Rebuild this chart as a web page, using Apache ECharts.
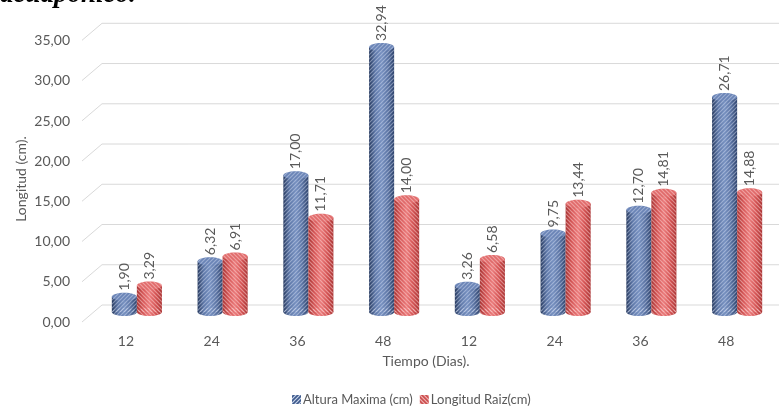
<!DOCTYPE html>
<html>
<head>
<meta charset="utf-8">
<script src="https://cdn.jsdelivr.net/npm/echarts@6/dist/echarts.min.js"></script>
<style>
html,body{margin:0;padding:0;background:#fff;}
#chart{width:779px;height:408px;}
</style>
</head>
<body>
<div id="chart"></div>
<script>
// ---- data ----
const categories = ['12', '24', '36', '48', '12', '24', '36', '48'];
const alturaMaxima = [1.90, 6.32, 17.00, 32.94, 3.26, 9.75, 12.70, 26.71];
const longitudRaiz = [3.29, 6.91, 11.71, 14.00, 6.58, 13.44, 14.81, 14.88];
const yTickValues = [0, 5, 10, 15, 20, 25, 30, 35];
const seriesNames = ['Altura Maxima (cm)', 'Longitud Raiz(cm)'];
const xAxisTitle = 'Tiempo (Dias).';
const yAxisTitle = 'Longitud (cm).';
const headingText = 'acuapónico.';

// ---- styling helpers ----
const FONT = 'Lato, "Open Sans", sans-serif';
const TXT = '#595959';
const fmt = v => v.toFixed(2).replace('.', ',');

function makePattern(bg, line, dir) {
  const c = document.createElement('canvas');
  c.width = 4; c.height = 4;
  const g = c.getContext('2d');
  g.fillStyle = bg; g.fillRect(0, 0, 4, 4);
  g.strokeStyle = line; g.lineWidth = 1.2;
  g.beginPath();
  if (dir > 0) {
    g.moveTo(-1, 5); g.lineTo(5, -1);
    g.moveTo(-1, 1); g.lineTo(1, -1);
    g.moveTo(3, 5); g.lineTo(5, 3);
  } else {
    g.moveTo(-1, -1); g.lineTo(5, 5);
    g.moveTo(-1, 3); g.lineTo(1, 5);
    g.moveTo(3, -1); g.lineTo(5, 1);
  }
  g.stroke();
  return c;
}
const blueHatch = makePattern('rgba(0,0,0,0)', 'rgba(215,225,245,0.45)', 1);
const redHatch = makePattern('rgba(0,0,0,0)', 'rgba(255,215,215,0.5)', -1);
const blueLegend = makePattern('#3e5a8c', '#c9d4ea', 1);
const redLegend = makePattern('#c94545', '#f4c2c2', -1);

const styles = [
  {
    grad: ['#24375c', '#5d77a8', '#7690c0', '#5a73a3', '#2a3f68'],
    top: '#6a84b6',
    hatch: blueHatch
  },
  {
    grad: ['#a53030', '#d65656', '#ea7a7a', '#d45252', '#a83232'],
    top: '#e06a6a',
    hatch: redHatch
  }
];

const DY = 7;   // depth shift of the cylinders (3D look)
const RY = 4;   // ellipse half height

function cylinderRenderer(sIdx) {
  const st = styles[sIdx];
  const grad = {
    type: 'linear', x: 0, y: 0, x2: 1, y2: 0,
    colorStops: st.grad.map((c, i) => ({ offset: i / (st.grad.length - 1), color: c }))
  };
  const pat = { image: st.hatch, repeat: 'repeat' };
  return function (params, api) {
    const idx = api.value(0), v = api.value(1);
    const top = api.coord([idx, v]);
    const base = api.coord([idx, 0]);
    const band = api.size([1, 0])[0];
    const w = band * 0.292;
    const rx = w / 2;
    const cx = top[0] + (sIdx === 0 ? -rx : rx);
    const ty = top[1] + DY, by = base[1] + DY;
    return {
      type: 'group',
      children: [
        { type: 'ellipse', shape: { cx: cx, cy: by, rx: rx, ry: RY }, style: { fill: grad } },
        { type: 'rect', shape: { x: cx - rx, y: ty, width: w, height: by - ty }, style: { fill: grad } },
        { type: 'ellipse', shape: { cx: cx, cy: by, rx: rx, ry: RY }, style: { fill: pat } },
        { type: 'rect', shape: { x: cx - rx, y: ty, width: w, height: by - ty }, style: { fill: pat } },
        { type: 'ellipse', shape: { cx: cx, cy: ty, rx: rx, ry: RY }, style: { fill: st.top } },
        { type: 'ellipse', shape: { cx: cx, cy: ty, rx: rx, ry: RY }, style: { fill: pat } },
        {
          type: 'text', x: cx, y: ty - RY - 2, rotation: Math.PI / 2,
          style: { text: fmt(v), fill: TXT, font: '14px ' + FONT, align: 'left', verticalAlign: 'middle' }
        }
      ]
    };
  };
}

// back wall gridlines + the short diagonal linking them to the front edge
function wallRenderer(params, api) {
  const p = api.coord([0, api.value(1)]);
  const cs = params.coordSys;
  const y = p[1];
  return {
    type: 'group',
    children: [
      { type: 'line', shape: { x1: cs.x + 8, y1: y, x2: cs.x + cs.width, y2: y }, style: { stroke: '#d9d9d9', lineWidth: 1 } },
      { type: 'line', shape: { x1: cs.x - 12, y1: y + 17, x2: cs.x + 8, y2: y }, style: { stroke: '#d9d9d9', lineWidth: 1 } }
    ]
  };
}

const chart = echarts.init(document.getElementById('chart'), null, { renderer: 'canvas' });
chart.setOption({
  backgroundColor: '#ffffff',
  animation: false,
  graphic: [
    {
      type: 'text', left: 0, top: -18,
      style: { text: headingText, font: 'italic bold 27px "Liberation Serif", serif', fill: '#000' }
    },
    {
      type: 'text', x: 21, y: 179, rotation: Math.PI / 2,
      style: { text: yAxisTitle, font: '14px ' + FONT, fill: TXT, align: 'center', verticalAlign: 'middle' }
    }
  ],
  grid: [
    // back plane: gridlines and cylinders
    { left: 94, top: 23.3, width: 686, bottom: 103, outerBoundsMode: 'none', containLabel: false },
    // front plane: axis labels and titles
    { left: 83, top: 40.6, width: 686, bottom: 86, outerBoundsMode: 'none', containLabel: false }
  ],
  legend: {
    data: [
      { name: seriesNames[0], itemStyle: { color: { image: blueLegend, repeat: 'repeat' } } },
      { name: seriesNames[1], itemStyle: { color: { image: redLegend, repeat: 'repeat' } } }
    ],
    icon: 'rect', itemWidth: 9, itemHeight: 9, itemGap: 7,
    left: 287, top: 388,
    textStyle: { color: TXT, fontSize: 13, fontFamily: FONT, padding: [0, 0, 0, -3] }
  },
  xAxis: [
    { type: 'category', data: categories, gridIndex: 0, show: false },
    {
      type: 'category', data: categories, gridIndex: 1,
      axisLine: { show: false }, axisTick: { show: false }, splitLine: { show: false },
      axisLabel: { color: TXT, fontSize: 14, fontFamily: FONT, margin: 12 },
      name: xAxisTitle, nameLocation: 'middle', nameGap: 32,
      nameTextStyle: { color: TXT, fontSize: 14, fontFamily: FONT }
    }
  ],
  yAxis: [
    {
      type: 'value', gridIndex: 0, show: false,
      min: yTickValues[0], max: yTickValues[yTickValues.length - 1], interval: 5
    },
    {
      type: 'value', gridIndex: 1,
      min: yTickValues[0], max: yTickValues[yTickValues.length - 1], interval: 5,
      axisLine: { show: false }, axisTick: { show: false }, splitLine: { show: false },
      axisLabel: {
        color: TXT, fontSize: 14, fontFamily: FONT, margin: 13,
        showMinLabel: true, showMaxLabel: true, formatter: v => fmt(v)
      }
    }
  ],
  series: [
    {
      type: 'custom', name: 'wall', silent: true, z: 1,
      xAxisIndex: 0, yAxisIndex: 0,
      data: yTickValues.map(v => [0, v]),
      renderItem: wallRenderer
    },
    {
      type: 'custom', name: seriesNames[0], z: 3,
      xAxisIndex: 0, yAxisIndex: 0,
      itemStyle: { color: '#4a6699' },
      data: alturaMaxima.map((v, i) => [i, v]),
      encode: { x: 0, y: 1 },
      renderItem: cylinderRenderer(0)
    },
    {
      type: 'custom', name: seriesNames[1], z: 3,
      xAxisIndex: 0, yAxisIndex: 0,
      itemStyle: { color: '#cf4c4c' },
      data: longitudRaiz.map((v, i) => [i, v]),
      encode: { x: 0, y: 1 },
      renderItem: cylinderRenderer(1)
    }
  ]
});
</script>
</body>
</html>
